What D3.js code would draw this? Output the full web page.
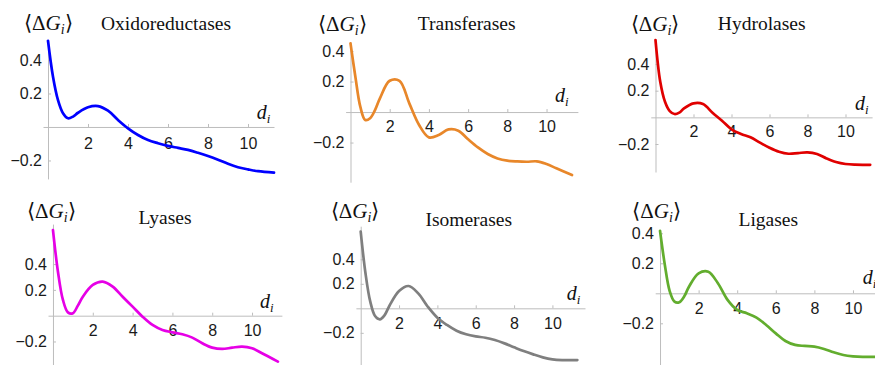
<!DOCTYPE html>
<html><head><meta charset="utf-8">
<script src="https://cdn.jsdelivr.net/npm/d3@7"></script>
<style>body{margin:0;background:#fff} svg{display:block}</style>
</head><body><svg id="c" width="875" height="365"></svg>
<script>
// ---------- data ----------
const distances = [0,0.25,0.5,0.75,1,1.25,1.5,2,2.5,3,3.5,4,4.5,5,5.5,6,6.5,7,7.5,8,8.5,9,9.5,10,10.5,11.3];
const enzymeClasses = ["Oxidoreductases","Transferases","Hydrolases","Lyases","Isomerases","Ligases"];
const oxidoreductases = [0.515,0.30,0.16,0.082,0.052,0.062,0.085,0.118,0.125,0.097,0.042,-0.008,-0.048,-0.078,-0.097,-0.113,-0.125,-0.137,-0.154,-0.173,-0.195,-0.22,-0.24,-0.253,-0.264,-0.273];
const transferases = [0.45,0.23,0.035,-0.052,-0.041,0.013,0.09,0.205,0.205,0.057,-0.085,-0.166,-0.151,-0.114,-0.122,-0.179,-0.232,-0.275,-0.304,-0.319,-0.324,-0.326,-0.323,-0.341,-0.369,-0.413];
const hydrolases = [0.58,0.267,0.117,0.047,0.025,0.035,0.067,0.105,0.10,0.035,-0.025,-0.09,-0.125,-0.15,-0.19,-0.228,-0.258,-0.273,-0.268,-0.263,-0.275,-0.308,-0.335,-0.35,-0.355,-0.356];
const lyases = [0.664,0.341,0.122,0.026,0.019,0.078,0.147,0.238,0.264,0.225,0.147,0.07,-0.008,-0.072,-0.111,-0.129,-0.144,-0.17,-0.214,-0.248,-0.258,-0.248,-0.24,-0.253,-0.291,-0.356];
const isomerases = [0.625,0.286,0.054,-0.063,-0.09,-0.055,0.021,0.141,0.182,0.122,0.013,-0.077,-0.136,-0.183,-0.212,-0.229,-0.24,-0.259,-0.286,-0.318,-0.349,-0.376,-0.40,-0.416,-0.422,-0.422];
const ligases = [0.417,0.189,0.015,-0.056,-0.06,-0.022,0.044,0.133,0.144,0.067,-0.044,-0.111,-0.133,-0.162,-0.211,-0.267,-0.318,-0.344,-0.351,-0.356,-0.371,-0.393,-0.411,-0.42,-0.424,-0.424];
const seriesValues = [oxidoreductases, transferases, hydrolases, lyases, isomerases, ligases];
const xTickValues = [2,4,6,8,10];
const xTickLabels = ["2","4","6","8","10"];
const yTickValues = [-0.2,0.2,0.4];
const yTickLabels = ["\u22120.2","0.2","0.4"];

// ---------- styles / layout ----------
const colors = ["#0000ff","#e8872a","#e00000","#e600e6","#7f7f7f","#62ad2e"];
const layout = [
  {xDomain:[-0.25,11.3], xRange:[43,274],      yDomain:[-0.31,0.52], yRange:[178.9,39.9], title:[166,30],   glabel:[24,30],    dlabel:[256.7,119], pad:10.5},
  {xDomain:[-0.25,11.6], xRange:[345.6,577.9], yDomain:[-0.46,0.46], yRange:[182.2,41.9], title:[466.7,30], glabel:[318,30.7], dlabel:[555,102], pad:9},
  {xDomain:[-0.25,11.4], xRange:[650.75,872.1],yDomain:[-0.41,0.59], yRange:[172,38.7],   title:[761.7,30], glabel:[630.7,30.7],dlabel:[855,110], pad:8.5},
  {xDomain:[-0.25,11.5], xRange:[48,281.9],    yDomain:[-0.38,0.71], yRange:[364.7,224.1],title:[165,224],  glabel:[27,218],   dlabel:[260,308.3], pad:8.5},
  {xDomain:[-0.25,11.7], xRange:[355.9,585],   yDomain:[-0.46,0.67], yRange:[364.7,226.2],title:[468.8,225.7],glabel:[330.7,218],dlabel:[566.7,300], pad:9},
  {xDomain:[-0.25,11.8], xRange:[655.2,887.7], yDomain:[-0.48,0.42], yRange:[365.3,230.3],title:[768.3,225.7],glabel:[632.3,218],dlabel:[862.7,284.3], pad:9}
];

const svg = d3.select("#c");
const serif = "'Liberation Serif','Times New Roman',serif";
const sans = "'Liberation Sans',Arial,sans-serif";

enzymeClasses.forEach((name, i) => {
  const L = layout[i];
  const x = d3.scaleLinear().domain(L.xDomain).range(L.xRange);
  const y = d3.scaleLinear().domain(L.yDomain).range(L.yRange);
  const g = svg.append("g");

  const xAxis = d3.axisBottom(x).tickValues(xTickValues).tickFormat((d,k)=>xTickLabels[k])
    .tickSizeInner(-3).tickSizeOuter(0).tickPadding(L.pad);
  const yAxis = d3.axisLeft(y).tickValues(yTickValues).tickFormat((d,k)=>yTickLabels[k])
    .tickSizeInner(-3).tickSizeOuter(0).tickPadding(6);

  const gx = g.append("g").attr("transform", `translate(0,${y(0)})`).call(xAxis);
  const gy = g.append("g").attr("transform", `translate(${x(0)},0)`).call(yAxis);
  [gx, gy].forEach(a => {
    a.select(".domain").attr("stroke", "#bdbdbd").attr("stroke-width", 1);
    a.selectAll(".tick line").attr("stroke", "#bdbdbd");
    a.selectAll(".tick text").attr("fill", "#1a1a1a").style("font-family", sans).style("font-size", "16px");
  });

  const line = d3.line()
    .x((d,k) => x(distances[k]))
    .y(d => y(d))
    .curve(d3.curveCatmullRom.alpha(0.5));
  g.append("path").datum(seriesValues[i])
    .attr("d", line).attr("fill", "none")
    .attr("stroke", colors[i]).attr("stroke-width", 2.7)
    .attr("stroke-linejoin", "round").attr("stroke-linecap", "round");

  // title
  g.append("text").attr("x", L.title[0]).attr("y", L.title[1])
    .attr("text-anchor", "middle").style("font-family", serif).style("font-size", "19.5px")
    .attr("fill", "#111").text(name);

  // y label <ΔG_i>
  const gl = g.append("text").attr("x", L.glabel[0]).attr("y", L.glabel[1])
    .style("font-family", serif).style("font-size", "21px").attr("fill", "#111");
  gl.append("tspan").text("\u27E8\u0394");
  gl.append("tspan").style("font-style", "italic").text("G");
  gl.append("tspan").style("font-style", "italic").style("font-size", "14px").attr("dy", 4).text("i");
  gl.append("tspan").attr("dy", -4).text("\u27E9");

  // x label d_i
  const dl = g.append("text").attr("x", L.dlabel[0]).attr("y", L.dlabel[1])
    .style("font-family", serif).style("font-size", "20px").style("font-style", "italic").attr("fill", "#111");
  dl.append("tspan").text("d");
  dl.append("tspan").style("font-size", "13px").attr("dy", 4).text("i");
});
</script>
</body></html>
